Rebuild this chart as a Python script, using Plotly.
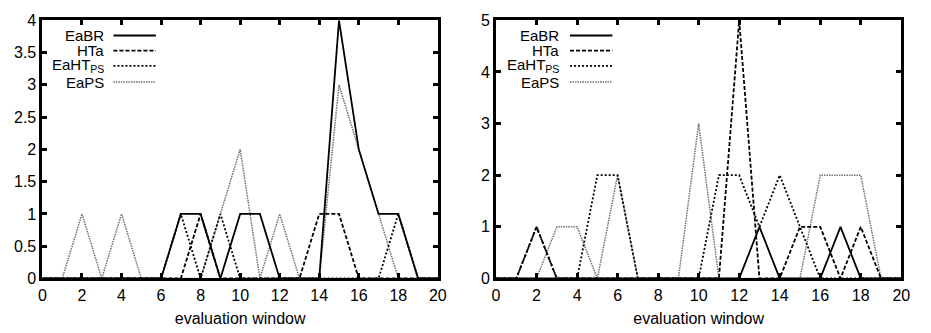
import plotly.graph_objects as go
from plotly.subplots import make_subplots

x_vals = list(range(0, 21))

# Left panel
left_EaBR = [0, 0, 0, 0, 0, 0, 0, 1, 1, 0, 1, 1, 0, 0, 0, 4, 2, 1, 1, 0, 0]
left_HTa = [0, 0, 0, 0, 0, 0, 0, 0, 1, 0, 0, 0, 0, 0, 1, 1, 0, 0, 0, 0, 0]
left_EaHTPS = [0, 0, 0, 0, 0, 0, 0, 1, 0, 1, 0, 0, 0, 0, 0, 0, 0, 0, 1, 0, 0]
left_EaPS = [0, 0, 1, 0, 1, 0, 0, 0, 0, 1, 2, 0, 1, 0, 0, 3, 2, 1, 0, 0, 0]

# Right panel
right_EaBR = [0, 0, 0, 0, 0, 0, 0, 0, 0, 0, 0, 0, 0, 1, 0, 0, 0, 1, 0, 0, 0]
right_HTa = [0, 0, 1, 0, 0, 0, 0, 0, 0, 0, 0, 0, 5, 0, 0, 1, 1, 0, 1, 0, 0]
right_EaHTPS = [0, 0, 1, 0, 0, 2, 2, 0, 0, 0, 0, 2, 2, 1, 2, 1, 0, 0, 0, 0, 0]
right_EaPS = [0, 0, 0, 1, 1, 0, 2, 0, 0, 0, 3, 0, 0, 0, 0, 0, 2, 2, 2, 0, 0]

series_names = ["EaBR", "HTa", "EaHT<sub>PS</sub>", "EaPS"]
x_ticks = list(range(0, 21, 2))
left_y_ticks = [0, 0.5, 1, 1.5, 2, 2.5, 3, 3.5, 4]
right_y_ticks = [0, 1, 2, 3, 4, 5]
x_title = "evaluation window"

styles = [
    dict(color="black", width=1.8, dash="solid"),
    dict(color="black", width=1.8, dash="4px,2px"),
    dict(color="black", width=1.8, dash="2px,2px"),
    dict(color="#707070", width=1.5, dash="1.5px,1px"),
]

FONT = "Liberation Sans, Arial, sans-serif"
FS = 16

fig = make_subplots(rows=1, cols=2)

for col, data in [(1, [left_EaBR, left_HTa, left_EaHTPS, left_EaPS]),
                  (2, [right_EaBR, right_HTa, right_EaHTPS, right_EaPS])]:
    # draw gray first so black lines sit on top
    for idx in [3, 2, 1, 0]:
        fig.add_trace(go.Scatter(x=x_vals, y=data[idx], mode="lines",
                                 line=styles[idx], name=series_names[idx],
                                 showlegend=False), row=1, col=col)

axis_common = dict(showline=True, linewidth=3, linecolor="black", mirror="ticks",
                   ticks="inside", ticklen=5, tickwidth=3, tickcolor="black",
                   showgrid=False, zeroline=False,
                   tickfont=dict(family=FONT, size=FS, color="black"))

fig.update_xaxes(range=[0, 20], tickvals=x_ticks, **axis_common,
                 title=dict(text=x_title, font=dict(family=FONT, size=FS, color="black"),
                            standoff=11))
fig.update_yaxes(**axis_common)
fig.update_yaxes(range=[0, 4], tickvals=left_y_ticks, row=1, col=1)
fig.update_yaxes(range=[0, 5], tickvals=right_y_ticks, row=1, col=2)

fig.update_layout(
    width=931, height=333,
    margin=dict(l=0, r=0, t=0, b=0),
    paper_bgcolor="white", plot_bgcolor="white",
    xaxis=dict(domain=[39 / 931, 440 / 931]),
    xaxis2=dict(domain=[499 / 931, 910 / 931]),
    yaxis=dict(domain=[1 - 285 / 333, 1 - 13 / 333]),
    yaxis2=dict(domain=[1 - 285 / 333, 1 - 13 / 333]),
)

# Manual legend (text right-aligned, sample line to the right), like gnuplot keys
legend_rows_px = [29, 45, 61, 78]
for xref, yref, text_right, line_x0, line_x1, x0_px, width_px in [
        ("x domain", "y domain", 103, 111, 154, 39, 401),
        ("x2 domain", "y2 domain", 565, 574, 617, 499, 411)]:
    for i, name in enumerate(series_names):
        ypx = legend_rows_px[i]
        yd = (285 - ypx) / 272
        fig.add_annotation(xref=xref, yref=yref, x=(text_right - x0_px) / width_px, y=yd,
                           text=name, showarrow=False, xanchor="right", yanchor="middle",
                           font=dict(family=FONT, size=15, color="black"))
        fig.add_shape(type="line", xref=xref, yref=yref,
                      x0=(line_x0 - x0_px) / width_px, x1=(line_x1 - x0_px) / width_px,
                      y0=yd, y1=yd, line=styles[i])

fig.write_html("out.html")
